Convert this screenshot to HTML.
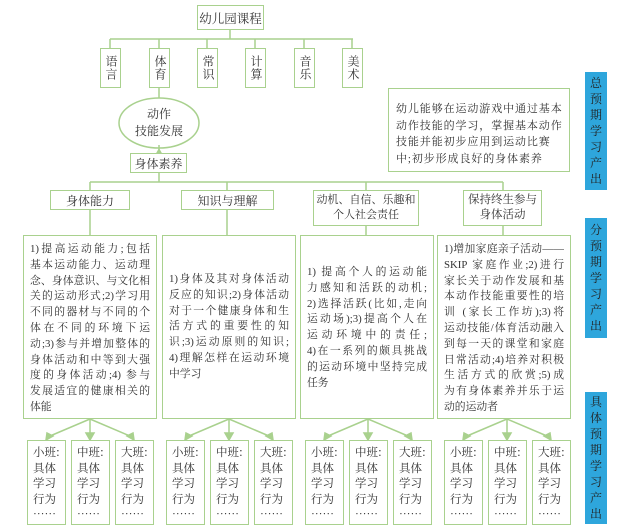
<!DOCTYPE html>
<html><head><meta charset="utf-8"><style>
body{margin:0;width:621px;height:532px;background:#fff;position:relative;overflow:hidden;font-family:"Liberation Serif","Noto Serif CJK SC",serif;color:#333}
.b{position:absolute;border:1.5px solid #a9d18e;box-sizing:border-box;background:#fff}
.c{display:flex;align-items:center;justify-content:center;text-align:center}
.v{font-size:12px;line-height:15px;writing-mode:vertical-rl;letter-spacing:1px}
.t{font-size:10.8px;padding:6px 6px 0 6px}
.t div{height:15.8px;line-height:15.8px;white-space:nowrap;text-align:justify;text-align-last:justify;overflow:hidden}
.t div.l{text-align-last:left}
.s{font-family:"Noto Serif CJK SC",serif;font-size:11.5px;line-height:15.5px;padding:4px 0 0 5px;white-space:nowrap;overflow:hidden}
.s div{height:15.5px}
.bl{position:absolute;left:585px;width:22px;background:#2ea6dc;color:#222;font-family:"Noto Serif CJK SC",serif;font-size:12px;text-align:center;display:flex;flex-direction:column;align-items:center;justify-content:center}
.bl div{height:16px;line-height:16px}
svg{position:absolute;left:0;top:0}
</style></head><body>
<svg width="621" height="532">
<g stroke="#a9d18e" stroke-width="1.5" fill="none">
<line x1="230" y1="30" x2="230" y2="39"/>
<line x1="110" y1="39" x2="353" y2="39"/>
<line x1="110" y1="39" x2="110" y2="48"/><line x1="159" y1="39" x2="159" y2="48"/><line x1="207" y1="39" x2="207" y2="48"/><line x1="255" y1="39" x2="255" y2="48"/><line x1="304" y1="39" x2="304" y2="48"/><line x1="352" y1="39" x2="352" y2="48"/>
<line x1="159" y1="88" x2="159" y2="98"/>
<ellipse cx="159" cy="123" rx="40" ry="25"/>
<line x1="159" y1="173" x2="159" y2="182"/>
<line x1="159" y1="153" x2="159" y2="145"/>
<line x1="90" y1="182" x2="503" y2="182"/>
<line x1="90" y1="182" x2="90" y2="190"/><line x1="227" y1="182" x2="227" y2="190"/><line x1="366" y1="182" x2="366" y2="190"/><line x1="503" y1="182" x2="503" y2="190"/>
<line x1="90" y1="210" x2="90" y2="235"/><line x1="227" y1="210" x2="227" y2="235"/><line x1="366" y1="226" x2="366" y2="235"/><line x1="503" y1="226" x2="503" y2="235"/>
</g>
<polygon points="159,148 155,155 163,155" fill="#a9d18e"/>
<g stroke="#a9d18e" stroke-width="1.5" fill="#a9d18e">
<g id="a">
<line x1="90" y1="419" x2="50" y2="436"/><line x1="90" y1="419" x2="90" y2="436"/><line x1="90" y1="419" x2="130" y2="436"/>
<polygon points="46,440 47,433 53,436"/><polygon points="90,440 86,433 94,433"/><polygon points="134,440 127,436 133,433"/>
</g>
<use href="#a" x="139"/><use href="#a" x="278"/><use href="#a" x="417"/>
</g>
</svg>
<div class="b c" style="left:197px;top:5px;width:67px;height:25px;font-size:12.5px">幼儿园课程</div>
<div class="b c v" style="left:100px;top:48px;width:21px;height:40px">语言</div>
<div class="b c v" style="left:149px;top:48px;width:21px;height:40px">体育</div>
<div class="b c v" style="left:197px;top:48px;width:21px;height:40px">常识</div>
<div class="b c v" style="left:245px;top:48px;width:21px;height:40px">计算</div>
<div class="b c v" style="left:294px;top:48px;width:21px;height:40px">音乐</div>
<div class="b c v" style="left:342px;top:48px;width:21px;height:40px">美术</div>
<div class="c" style="position:absolute;left:119px;top:100px;width:80px;height:46px;font-size:12px;line-height:17px">动作<br>技能发展</div>
<div class="b c" style="left:130px;top:153px;width:57px;height:20px;font-size:12px">身体素养</div>
<div class="b c" style="left:50px;top:190px;width:80px;height:20px;font-size:12px">身体能力</div>
<div class="b c" style="left:181px;top:190px;width:93px;height:20px;font-size:12px">知识与理解</div>
<div class="b c" style="left:313px;top:190px;width:106px;height:36px;font-size:11px;line-height:15px;white-space:nowrap">动机、自信、乐趣和<br>个人社会责任</div>
<div class="b c" style="left:463px;top:190px;width:79px;height:36px;font-size:11.5px;line-height:15px;white-space:nowrap">保持终生参与<br>身体活动</div>
<div class="b" style="left:388px;top:88px;width:182px;height:84px;padding:12px 7px 0 7px;font-size:11px;line-height:16.5px;letter-spacing:0.9px;white-space:nowrap">幼儿能够在运动游戏中通过基本<br>动作技能的学习，掌握基本动作<br>技能并能初步应用到运动比赛<br>中;初步形成良好的身体素养</div>
<div class="b t" style="left:23px;top:235px;width:134px;height:184px"><div>1)提高运动能力;包括</div><div>基本运动能力、运动理</div><div>念、身体意识、与文化相</div><div>关的运动形式;2)学习用</div><div>不同的器材与不同的个</div><div>体在不同的环境下运</div><div>动;3)参与并增加整体的</div><div>身体活动和中等到大强</div><div>度的身体活动;4) 参与</div><div>发展适宜的健康相关的</div><div class="l">体能</div></div>
<div class="b t" style="left:162px;top:235px;width:134px;height:184px;padding-top:36px"><div>1)身体及其对身体活动</div><div>反应的知识;2)身体活动</div><div>对于一个健康身体和生</div><div>活方式的重要性的知</div><div>识;3)运动原则的知识;</div><div>4)理解怎样在运动环境</div><div class="l">中学习</div></div>
<div class="b t" style="left:300px;top:235px;width:134px;height:184px;padding-top:29px"><div>1) 提高个人的运动能</div><div>力感知和活跃的动机;</div><div>2)选择活跃(比如,走向</div><div>运动场);3)提高个人在</div><div>运动环境中的责任;</div><div>4)在一系列的颇具挑战</div><div>的运动环境中坚持完成</div><div class="l">任务</div></div>
<div class="b t" style="left:437px;top:235px;width:134px;height:184px"><div>1)增加家庭亲子活动——</div><div>SKIP 家庭作业;2)进行</div><div>家长关于动作发展和基</div><div>本动作技能重要性的培</div><div>训 (家长工作坊);3)将</div><div>运动技能/体育活动融入</div><div>到每一天的课堂和家庭</div><div>日常活动;4)培养对积极</div><div>生活方式的欣赏;5)成</div><div>为有身体素养并乐于运</div><div class="l">动的运动者</div></div>
<div class="bl" style="top:72px;height:118px"><div>总</div><div>预</div><div>期</div><div>学</div><div>习</div><div>产</div><div>出</div></div>
<div class="bl" style="top:218px;height:120px"><div>分</div><div>预</div><div>期</div><div>学</div><div>习</div><div>产</div><div>出</div></div>
<div class="bl" style="top:392px;height:132px"><div>具</div><div>体</div><div>预</div><div>期</div><div>学</div><div>习</div><div>产</div><div>出</div></div>
<div class="b s" style="left:27px;top:440px;width:39px;height:85px"><div>小班:</div><div>具体</div><div>学习</div><div>行为</div><div>……</div></div>
<div class="b s" style="left:71px;top:440px;width:39px;height:85px"><div>中班:</div><div>具体</div><div>学习</div><div>行为</div><div>……</div></div>
<div class="b s" style="left:115px;top:440px;width:39px;height:85px"><div>大班:</div><div>具体</div><div>学习</div><div>行为</div><div>……</div></div>
<div class="b s" style="left:166px;top:440px;width:39px;height:85px"><div>小班:</div><div>具体</div><div>学习</div><div>行为</div><div>……</div></div>
<div class="b s" style="left:210px;top:440px;width:39px;height:85px"><div>中班:</div><div>具体</div><div>学习</div><div>行为</div><div>……</div></div>
<div class="b s" style="left:254px;top:440px;width:39px;height:85px"><div>大班:</div><div>具体</div><div>学习</div><div>行为</div><div>……</div></div>
<div class="b s" style="left:305px;top:440px;width:39px;height:85px"><div>小班:</div><div>具体</div><div>学习</div><div>行为</div><div>……</div></div>
<div class="b s" style="left:349px;top:440px;width:39px;height:85px"><div>中班:</div><div>具体</div><div>学习</div><div>行为</div><div>……</div></div>
<div class="b s" style="left:393px;top:440px;width:39px;height:85px"><div>大班:</div><div>具体</div><div>学习</div><div>行为</div><div>……</div></div>
<div class="b s" style="left:444px;top:440px;width:39px;height:85px"><div>小班:</div><div>具体</div><div>学习</div><div>行为</div><div>……</div></div>
<div class="b s" style="left:488px;top:440px;width:39px;height:85px"><div>中班:</div><div>具体</div><div>学习</div><div>行为</div><div>……</div></div>
<div class="b s" style="left:532px;top:440px;width:39px;height:85px"><div>大班:</div><div>具体</div><div>学习</div><div>行为</div><div>……</div></div>
</body></html>
